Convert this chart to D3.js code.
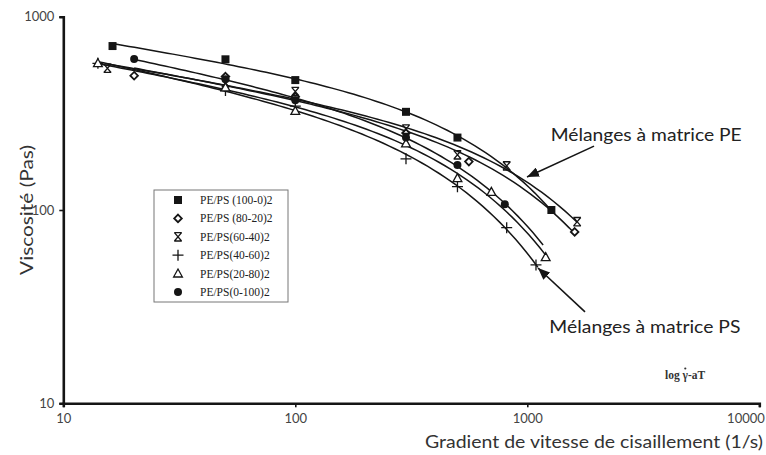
<!DOCTYPE html>
<html><head><meta charset="utf-8">
<script src="https://cdn.jsdelivr.net/npm/d3@7"></script>
<style>
html,body{margin:0;padding:0;background:#fff;}
svg{display:block;}
</style></head>
<body>
<svg id="chart" width="766" height="455"></svg>
<script>
// ---- data ----
const seriesNames = ["PE/PS (100-0)2","PE/PS (80-20)2","PE/PS(60-40)2","PE/PS(40-60)2","PE/PS(20-80)2","PE/PS(0-100)2"];
const shear100_0 = [16.3, 50, 100, 300, 500, 1270];
const visc100_0  = [705, 602, 470, 322, 237, 100];
const shear80_20 = [20.2, 50, 100, 300, 560, 1600];
const visc80_20  = [495, 490, 385, 250, 178, 77];
const shear60_40 = [15.5, 50, 100, 300, 500, 815, 1640];
const visc60_40  = [541, 455, 410, 262, 193, 169, 87];
const shear40_60 = [14.1, 50, 100, 300, 500, 815, 1090];
const visc40_60  = [574, 415, 345, 184, 132, 81, 52];
const shear20_80 = [14.1, 50, 100, 300, 500, 700, 1200];
const visc20_80  = [574, 430, 325, 221, 146, 124, 57];
const shear0_100 = [20.2, 50, 100, 300, 500, 800];
const visc0_100  = [604, 475, 370, 237, 171, 107];
// shear rate where each fitted curve stops
const fitEnd = [1270, 1600, 1640, 1110, 1200, 1170];
const xTicks = [10, 100, 1000, 10000];
const yTicks = [10, 100, 1000];
const annotations = [
  {text:"Mélanges à matrice PE", tail:[1939,214], tip:[997,148], label:[1262,227]},
  {text:"Mélanges à matrice PS", tail:[1773,29.7], tip:[1112,50.1], label:[1245,23.2]}
];

// ---- build ----
const series = [
  {name:seriesNames[0], sym:"square",   xs:shear100_0, ys:visc100_0, end:fitEnd[0]},
  {name:seriesNames[1], sym:"diamond",  xs:shear80_20, ys:visc80_20, end:fitEnd[1]},
  {name:seriesNames[2], sym:"xmark",    xs:shear60_40, ys:visc60_40, end:fitEnd[2]},
  {name:seriesNames[3], sym:"plus",     xs:shear40_60, ys:visc40_60, end:fitEnd[3]},
  {name:seriesNames[4], sym:"triangle", xs:shear20_80, ys:visc20_80, end:fitEnd[4]},
  {name:seriesNames[5], sym:"circle",   xs:shear0_100, ys:visc0_100, end:fitEnd[5]}
];

const svg = d3.select("#chart");
const W = 766, H = 455;
const m = {left:63.3, right:6.7, top:16.7, bottom:51.7};
const x = d3.scaleLog().domain([10,10000]).range([m.left, W - m.right]);
const y = d3.scaleLog().domain([10,1000]).range([H - m.bottom, m.top]);
const ink = "#151515";

// least-squares trend in log-log space: log(eta) = c0 + c1*log(g) + c2*g
function lsq(rows, vs){
  const n = rows[0].length;
  const A = Array.from({length:n}, () => new Array(n+1).fill(0));
  rows.forEach((r,k) => {
    for(let i=0;i<n;i++){
      for(let j=0;j<n;j++) A[i][j] += r[i]*r[j];
      A[i][n] += vs[k]*r[i];
    }
  });
  for(let c=0;c<n;c++){
    let p=c; for(let r=c+1;r<n;r++) if(Math.abs(A[r][c])>Math.abs(A[p][c])) p=r;
    [A[c],A[p]]=[A[p],A[c]];
    for(let r=0;r<n;r++){ if(r===c) continue; const f=A[r][c]/A[c][c]; for(let k=c;k<=n;k++) A[r][k]-=f*A[c][k]; }
  }
  return A.map((row,i)=>row[n]/row[i]);
}
const basis = g => [1, Math.log10(g), g/1000];

const line = d3.line().x(d=>x(d[0])).y(d=>y(d[1]));
const curves = svg.append("g");
series.forEach(s => {
  const c = lsq(s.xs.map(basis), s.ys.map(Math.log10));
  const u0 = Math.log10(d3.min(s.xs)), u1 = Math.log10(s.end);
  const pts = d3.range(0, 81).map(i => {
    const g = Math.pow(10, u0 + (u1-u0)*i/80);
    const b = basis(g);
    return [g, Math.pow(10, b[0]*c[0] + b[1]*c[1] + b[2]*c[2])];
  });
  curves.append("path").attr("d", line(pts)).attr("fill","none")
    .attr("stroke", ink).attr("stroke-width", 1.5);
});

// axes
const xAxis = d3.axisBottom(x).tickValues(xTicks).tickFormat(d3.format("d")).tickSize(4).tickPadding(6);
const yAxis = d3.axisLeft(y).tickValues(yTicks).tickFormat(d3.format("d")).tickSize(4).tickPadding(5);
const gx = svg.append("g").attr("transform",`translate(0,${y(10)})`).call(xAxis);
const gy = svg.append("g").attr("transform",`translate(${x(10)},0)`).call(yAxis);
[gx,gy].forEach(g=>{
  g.select(".domain").attr("stroke",ink).attr("stroke-width",2.6);
  g.selectAll(".tick line").attr("stroke",ink).attr("stroke-width",1.6);
  g.selectAll(".tick text").attr("fill","#444").style("font-family","Lato, 'Open Sans', sans-serif").style("font-size","13px");
});
gx.selectAll(".tick text").filter(d=>d===10000).attr("text-anchor","end").attr("dx","5");

// markers
function symPath(t){
  switch(t){
    case "square": return "M-4,-4H4V4H-4Z";
    case "diamond": return "M0,-3.8L3.8,0L0,3.8L-3.8,0Z";
    case "triangle": return "M0,-4.6L4.4,3.4L-4.4,3.4Z";
    case "plus": return "M-5.5,0H5.5M0,-5.5V5.5";
    case "xmark": return "M-3.6,-4.2L3.6,4.2M3.6,-4.2L-3.6,4.2M-3.8,-4.2H3.8M-3.8,4.2H3.8";
    case "circle": return "M4,0A4,4 0 1,1 -4,0A4,4 0 1,1 4,0Z";
  }
}
function symStyle(sel,t){
  if(t==="square"||t==="circle") sel.attr("fill",ink).attr("stroke","none");
  else if(t==="diamond") sel.attr("fill","#fff").attr("stroke",ink).attr("stroke-width",1.8);
  else if(t==="triangle") sel.attr("fill","#fff").attr("stroke",ink).attr("stroke-width",1.3);
  else sel.attr("fill","none").attr("stroke",ink).attr("stroke-width",1.3);
}
const marks = svg.append("g");
series.forEach(s=>{
  const pts = s.xs.map((v,i)=>[v, s.ys[i]]);
  marks.selectAll(null).data(pts).enter().append("path")
    .attr("transform",d=>`translate(${x(d[0])},${y(d[1])})`)
    .attr("d",symPath(s.sym)).call(symStyle, s.sym);
});

// legend
const lg = svg.append("g").attr("transform","translate(154,190)");
lg.append("rect").attr("width",134).attr("height",112).attr("fill","#fff").attr("stroke","#777").attr("stroke-width",1);
series.forEach((s,i)=>{
  const yy = 10 + i*18.4;
  lg.append("path").attr("transform",`translate(24,${yy})`).attr("d",symPath(s.sym)).call(symStyle,s.sym);
  lg.append("text").attr("x",46).attr("y",yy+4).text(s.name)
    .style("font-family","'Liberation Serif', 'DejaVu Serif', serif").style("font-size","11.5px").attr("fill","#222");
});

// axis titles
svg.append("text").attr("x",763).attr("y",448).attr("text-anchor","end")
  .style("font-family","Lato, 'Open Sans', sans-serif").style("font-size","17px").attr("fill","#333")
  .attr("textLength",338).attr("lengthAdjust","spacingAndGlyphs")
  .text("Gradient de vitesse de cisaillement (1/s)");
svg.append("text").attr("transform","translate(33,210) rotate(-90)").attr("text-anchor","middle")
  .style("font-family","Lato, 'Open Sans', sans-serif").style("font-size","18px").attr("fill","#333")
  .attr("textLength",130).attr("lengthAdjust","spacingAndGlyphs")
  .text("Viscosité (Pas)");

// annotations with arrows
svg.append("defs").append("marker").attr("id","ah").attr("viewBox","0 0 12 10")
  .attr("refX",12).attr("refY",5).attr("markerWidth",12).attr("markerHeight",10)
  .attr("markerUnits","userSpaceOnUse").attr("orient","auto")
  .append("path").attr("d","M0,0L12,5L0,10Z").attr("fill",ink);
annotations.forEach(a=>{
  svg.append("line").attr("x1",x(a.tail[0])).attr("y1",y(a.tail[1]))
    .attr("x2",x(a.tip[0])).attr("y2",y(a.tip[1]))
    .attr("stroke",ink).attr("stroke-width",1.6).attr("marker-end","url(#ah)");
  svg.append("text").attr("x",x(a.label[0])).attr("y",y(a.label[1]))
    .style("font-family","Lato, 'Open Sans', sans-serif").style("font-size","17.5px").attr("fill","#222")
    .attr("textLength",191).attr("lengthAdjust","spacingAndGlyphs").text(a.text);
});

// small note: log γ̇-aT (dot drawn over the gamma)
const note = svg.append("text").attr("x",665).attr("y",379)
  .style("font-family","'Liberation Serif', serif").style("font-size","11.5px").style("font-weight","bold").attr("fill","#333");
note.append("tspan").text("log ");
const gam = note.append("tspan").text("\u03B3");
note.append("tspan").text("-aT");
const pre = note.node().getSubStringLength(0,4);
const gw = note.node().getSubStringLength(4,1);
svg.append("circle").attr("cx",665 + pre + gw/2).attr("cy",379-10.5).attr("r",1.1).attr("fill","#333");
</script>
</body></html>
